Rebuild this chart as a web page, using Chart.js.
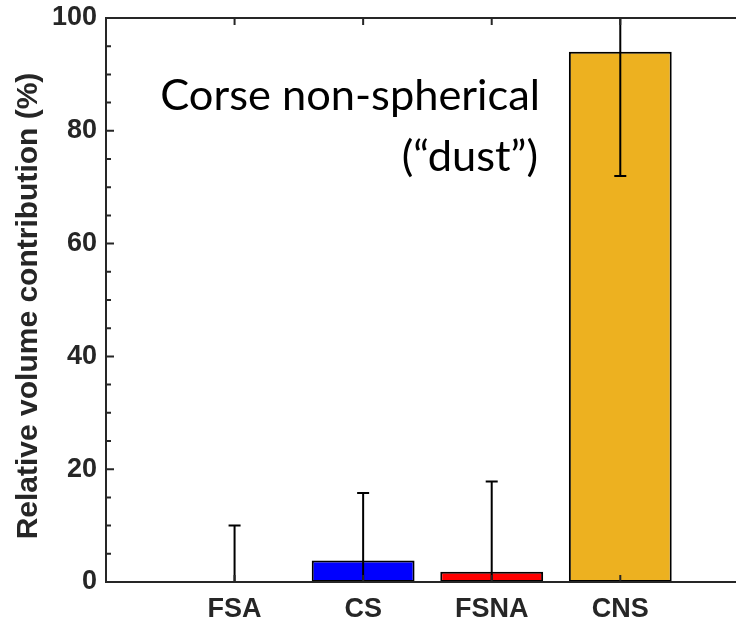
<!DOCTYPE html>
<html>
<head>
<meta charset="utf-8">
<script src="https://cdn.jsdelivr.net/npm/chart.js@4/dist/chart.umd.min.js"></script>
<style>
  html, body { margin: 0; padding: 0; background: #fff; overflow: hidden; }
  #wrap { width: 736px; height: 626px; }
</style>
</head>
<body>
<div id="wrap"><canvas id="volumeChart" width="736" height="626"></canvas></div>
<script>
// aerosol type volume contributions
const categories = ['FSA', 'CS', 'FSNA', 'CNS'];
const contribution = [0, 3.8, 1.8, 94];
const errors = [10, 12, 16, 22];
const barColors = ['#0072BD', '#0000FF', '#FF0000', '#EDB120'];
const yTicks = [0, 20, 40, 60, 80, 100];
const noteLines = ['Corse non-spherical', '(\u201Cdust\u201D)'];

const axisColor = '#262626';
const tickFont = { family: 'Liberation Sans, Arial, sans-serif', size: 27, weight: 'bold' };

// error bars, axis box and inward tick marks drawn over the bars
const axisFrame = {
  id: 'axisFrame',
  afterDatasetsDraw(chart) {
    const ctx = chart.ctx;
    const area = chart.chartArea;
    const xs = chart.scales.x;
    const ys = chart.scales.y;

    ctx.save();
    ctx.beginPath();
    ctx.rect(area.left, area.top - 1, area.right - area.left, area.bottom - area.top + 1);
    ctx.clip();
    ctx.strokeStyle = '#000';
    ctx.lineWidth = 2;
    categories.forEach((c, i) => {
      const px = xs.getPixelForValue(i + 1);
      const hi = ys.getPixelForValue(contribution[i] + errors[i]);
      const lo = ys.getPixelForValue(contribution[i] - errors[i]);
      ctx.beginPath();
      ctx.moveTo(px, lo);
      ctx.lineTo(px, hi);
      ctx.moveTo(px - 6, hi);
      ctx.lineTo(px + 6, hi);
      ctx.moveTo(px - 6, lo);
      ctx.lineTo(px + 6, lo);
      ctx.stroke();
    });
    ctx.restore();

    ctx.save();
    ctx.strokeStyle = axisColor;
    ctx.lineWidth = 2;
    ctx.beginPath();
    ctx.moveTo(area.right, area.top);
    ctx.lineTo(area.left, area.top);
    ctx.lineTo(area.left, area.bottom);
    ctx.lineTo(area.right, area.bottom);
    for (let v = 0; v <= 100; v += 5) {
      const py = ys.getPixelForValue(v);
      ctx.moveTo(area.left, py);
      ctx.lineTo(area.left + (v % 20 === 0 ? 8 : 5), py);
    }
    categories.forEach((c, i) => {
      const px = xs.getPixelForValue(i + 1);
      ctx.moveTo(px, area.bottom);
      ctx.lineTo(px, area.bottom - 7);
      ctx.moveTo(px, area.top);
      ctx.lineTo(px, area.top + 7);
    });
    ctx.stroke();
    ctx.restore();
  }
};

// y axis title and the text note
const labels = {
  id: 'labels',
  afterDraw(chart) {
    const ctx = chart.ctx;
    const xs = chart.scales.x;
    const ys = chart.scales.y;

    ctx.save();
    ctx.fillStyle = axisColor;
    ctx.font = 'bold 30px Liberation Sans, Arial, sans-serif';
    ctx.textAlign = 'center';
    ctx.textBaseline = 'middle';
    ctx.translate(29, (ys.top + ys.bottom) / 2 + 6);
    ctx.rotate(-Math.PI / 2);
    ctx.fillText('Relative volume contribution (%)', 0, 0);
    ctx.restore();

    ctx.save();
    ctx.fillStyle = '#000';
    ctx.textAlign = 'right';
    ctx.textBaseline = 'alphabetic';
    ctx.font = '36px Lato, Carlito, sans-serif';
    const w = ctx.measureText(noteLines[0]).width;
    const size = 36 * 380 / w;
    ctx.font = size.toFixed(1) + 'px Lato, Carlito, sans-serif';
    const nx = xs.getPixelForValue(3.376);
    const ny = ys.getPixelForValue(83.7);
    ctx.fillText(noteLines[0], nx, ny);
    ctx.fillText(noteLines[1], nx - 2, ny + 61);
    ctx.restore();
  }
};

const ctx = document.getElementById('volumeChart').getContext('2d');
new Chart(ctx, {
  type: 'bar',
  data: {
    datasets: [{
      data: categories.map((c, i) => ({ x: i + 1, y: contribution[i] })),
      backgroundColor: barColors,
      borderColor: '#000',
      borderWidth: 2,
      borderSkipped: false,
      barPercentage: 0.8,
      categoryPercentage: 1
    }]
  },
  options: {
    responsive: false,
    animation: false,
    layout: { padding: { top: 18, right: 0, bottom: 0, left: 0 } },
    plugins: {
      legend: { display: false },
      tooltip: { enabled: false }
    },
    scales: {
      x: {
        type: 'linear',
        offset: false,
        min: 0,
        max: 4.9,
        grid: { display: false, drawTicks: false },
        border: { display: false },
        afterBuildTicks: axis => {
          axis.ticks = categories.map((c, i) => ({ value: i + 1 }));
        },
        afterFit: axis => {
          axis.height = 44;
          axis.paddingLeft = 0;
          axis.paddingRight = 0;
        },
        ticks: {
          font: tickFont,
          color: axisColor,
          padding: 11,
          maxRotation: 0,
          autoSkip: false,
          callback: v => categories[v - 1] || ''
        }
      },
      y: {
        min: 0,
        max: 100,
        grid: { display: false, drawTicks: false },
        border: { display: false },
        afterBuildTicks: axis => {
          axis.ticks = yTicks.map(v => ({ value: v }));
        },
        afterFit: axis => {
          axis.width = 106;
          axis.paddingTop = 0;
          axis.paddingBottom = 0;
        },
        ticks: {
          font: tickFont,
          color: axisColor,
          padding: 9
        }
      }
    }
  },
  plugins: [axisFrame, labels]
});
</script>
</body>
</html>
